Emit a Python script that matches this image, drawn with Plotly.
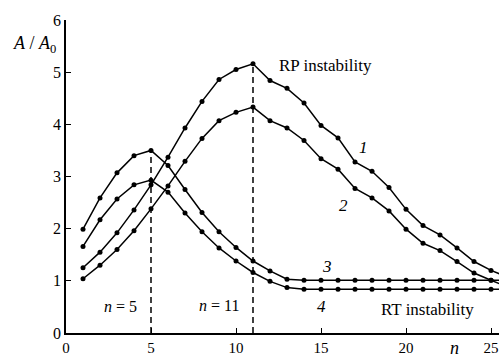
import plotly.graph_objects as go

n = list(range(1, 27))
curve1 = [1.25, 1.55, 1.92, 2.36, 2.84, 3.37, 3.93, 4.44, 4.86, 5.05, 5.16, 4.84, 4.69,
          4.41, 3.98, 3.74, 3.28, 3.10, 2.79, 2.37, 2.06, 1.88, 1.63, 1.37, 1.20, 1.07]
curve2 = [1.04, 1.30, 1.60, 1.96, 2.38, 2.82, 3.29, 3.73, 4.07, 4.23, 4.33, 4.07, 3.93,
          3.69, 3.34, 3.14, 2.77, 2.59, 2.34, 1.99, 1.72, 1.58, 1.37, 1.15, 1.01, 0.88]
curve3 = [1.99, 2.59, 3.07, 3.40, 3.50, 3.21, 2.75, 2.31, 1.94, 1.64, 1.38, 1.19, 1.03,
          1.01, 1.01, 1.01, 1.01, 1.01, 1.01, 1.01, 1.01, 1.01, 1.01, 1.01, 1.01, 1.01]
curve4 = [1.66, 2.17, 2.57, 2.84, 2.93, 2.70, 2.30, 1.94, 1.63, 1.38, 1.16, 0.99, 0.87,
          0.84, 0.84, 0.84, 0.84, 0.84, 0.84, 0.84, 0.84, 0.84, 0.84, 0.84, 0.84, 0.84]

peak_n = [5, 11]
peak_val = [3.50, 5.16]

x_ticks = [0, 5, 10, 15, 20, 25]
y_ticks = [0, 1, 2, 3, 4, 5, 6]

FONT = "Liberation Serif"

fig = go.Figure()

# dashed guide lines at the two peaks
for pn, pv in zip(peak_n, peak_val):
    fig.add_trace(go.Scatter(x=[pn, pn], y=[0, pv], mode="lines",
                             line=dict(color="black", width=1.5, dash="6px,4px"),
                             showlegend=False, hoverinfo="skip"))

for ys in [curve1, curve2, curve3, curve4]:
    fig.add_trace(go.Scatter(x=n, y=ys, mode="lines+markers",
                             line=dict(color="black", width=1.5),
                             marker=dict(color="black", size=5),
                             showlegend=False))

ann = [
    dict(x=15.24, y=5.13, text="RP instability", size=17),
    dict(x=21.26, y=0.45, text="RT instability", size=17),
    dict(x=17.47, y=3.56, text="<i>1</i>", size=17),
    dict(x=16.35, y=2.45, text="<i>2</i>", size=17),
    dict(x=15.34, y=1.28, text="<i>3</i>", size=17),
    dict(x=15.04, y=0.5, text="<i>4</i>", size=17),
    dict(x=3.2, y=0.51, text="<i>n</i> = 5", size=16),
    dict(x=9.0, y=0.53, text="<i>n</i> = 11", size=16),
]
for a in ann:
    fig.add_annotation(x=a["x"], y=a["y"], xref="x", yref="y", text=a["text"],
                       showarrow=False, xanchor="center", yanchor="middle",
                       font=dict(family=FONT, size=a["size"], color="black"))

fig.add_annotation(x=-0.072, y=0.922, xref="paper", yref="paper",
                   text="<i>A</i> / <i>A</i><sub>0</sub>", showarrow=False,
                   xanchor="center", yanchor="middle",
                   font=dict(family=FONT, size=18, color="black"))
fig.add_annotation(x=0.898, y=-0.047, xref="paper", yref="paper",
                   text="<i>n</i>", showarrow=False,
                   xanchor="center", yanchor="middle",
                   font=dict(family=FONT, size=18, color="black"))

fig.update_layout(
    width=499, height=358,
    margin=dict(l=66, r=0, t=20, b=25),
    paper_bgcolor="white", plot_bgcolor="white",
    font=dict(family=FONT, size=15, color="black"),
)
fig.update_xaxes(range=[0, 25.47], tickvals=x_ticks, ticks="inside", ticklen=5,
                 tickwidth=1.2, tickcolor="black", showline=True, linecolor="black",
                 linewidth=1.5, showgrid=False, zeroline=False,
                 tickfont=dict(family=FONT, size=15))
fig.update_yaxes(range=[0, 6], tickvals=y_ticks, ticks="inside", ticklen=5,
                 tickwidth=1.2, tickcolor="black", showline=True, linecolor="black",
                 linewidth=1.5, showgrid=False, zeroline=False,
                 tickfont=dict(family=FONT, size=16))

fig.write_html("out.html")
